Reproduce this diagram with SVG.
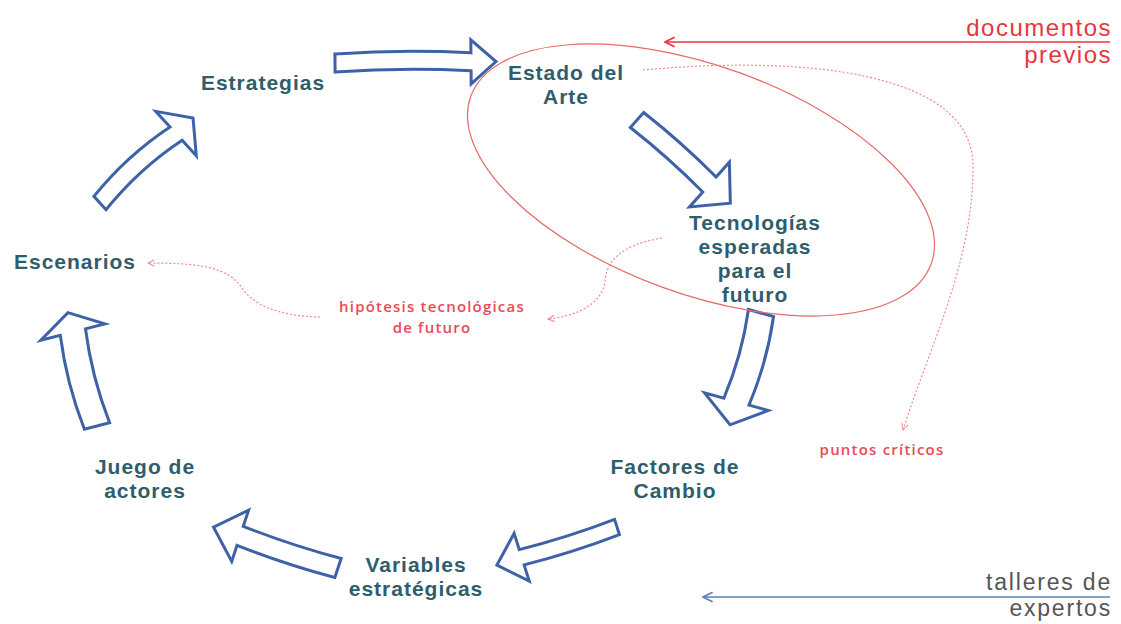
<svg xmlns="http://www.w3.org/2000/svg" width="1121" height="624" viewBox="0 0 1121 624">
<style>
.node{font-family:"Liberation Sans",Arial,sans-serif;font-weight:700;font-size:21px;fill:#2f5d6c;text-anchor:middle;letter-spacing:1px}
.blk{fill:#fff;stroke:#3d62a6;stroke-width:3;stroke-linejoin:miter}
.redt{fill:#e8353f}
.small{font-family:"Open Sans","Liberation Sans",sans-serif;font-size:15px;font-weight:600;text-anchor:middle;fill:#ea4a55;letter-spacing:1.2px}
.big{font-family:"Liberation Sans",Arial,sans-serif;font-size:24px;text-anchor:end;letter-spacing:1.5px}
.gray{font-family:"Liberation Sans",Arial,sans-serif;font-size:23px;fill:#555;text-anchor:end;letter-spacing:1.8px}
.dot{fill:none;stroke:#f08a8a;stroke-width:1.2;stroke-dasharray:2 2}
</style>
<defs>
<marker id="rh" viewBox="0 0 10 10" refX="9" refY="5" markerWidth="8" markerHeight="8" orient="auto" markerUnits="userSpaceOnUse">
<path d="M1,1 L9,5 L1,9" fill="none" stroke="#f08a8a" stroke-width="1.3"/>
</marker>
<marker id="rs" viewBox="0 0 10 10" refX="9" refY="5" markerWidth="12" markerHeight="12" orient="auto" markerUnits="userSpaceOnUse">
<path d="M1,1 L9,5 L1,9" fill="none" stroke="#e8353f" stroke-width="1.4"/>
</marker>
<marker id="bs" viewBox="0 0 10 10" refX="9" refY="5" markerWidth="12" markerHeight="12" orient="auto" markerUnits="userSpaceOnUse">
<path d="M1,1 L9,5 L1,9" fill="none" stroke="#5b7fb8" stroke-width="1.4"/>
</marker>
</defs>
<rect width="1121" height="624" fill="#fff"/>

<g id="connectors">
<path class="blk" transform="translate(335,63) rotate(-0.5)" d="M0,-9 Q68,-13 136,-9 L136,-22 L161,0 L136,22 L136,9 Q68,5 0,9 Z"/>
<path class="blk" transform="translate(637,120) rotate(41.7)" d="M0,-10 Q48.5,-13 97,-10 L97,-30 L125,0 L97,30 L97,10 Q48.5,7 0,10 Z"/>
<path class="blk" transform="translate(761,313) rotate(105.5)" d="M0,-13 Q46,-19 92,-13 L92,-33 L116,0 L92,33 L92,13 Q46,7 0,13 Z"/>
<path class="blk" transform="translate(617,527) rotate(162.4)" d="M0,-8 Q50,-11 100,-8 L100,-25 L126,0 L100,25 L100,8 Q50,5 0,8 Z"/>
<path class="blk" transform="translate(338,568) rotate(198.2)" d="M0,-10 Q51.5,-13 103,-10 L103,-27 L131,0 L103,27 L103,10 Q51.5,7 0,10 Z"/>
<path class="blk" transform="translate(97,426) rotate(255.6)" d="M0,-13 Q48.5,-19 97,-13 L97,-33 L117,0 L97,33 L97,13 Q48.5,7 0,13 Z"/>
<path class="blk" transform="translate(100,203) rotate(-42.4)" d="M0,-9 Q51.5,-17 103,-9 L103,-30 L126,0 L103,30 L103,9 Q51.5,1 0,9 Z"/>

<ellipse cx="701" cy="180" rx="245" ry="114" transform="rotate(20 701 180)" fill="none" stroke="#e86a6a" stroke-width="1.2"/>
<line x1="1110" y1="42" x2="665" y2="42" stroke="#e8353f" stroke-width="1.5" marker-end="url(#rs)"/>
<line x1="1110" y1="597" x2="703" y2="597" stroke="#5b7fb8" stroke-width="1.5" marker-end="url(#bs)"/>
<path class="dot" d="M643,70 C805,55 972,72 973,165 C974,262 928,350 903,430" marker-end="url(#rh)"/>
<path class="dot" d="M662,238 C620,245 606,262 605,282 C602,302 580,316 548,319" marker-end="url(#rh)"/>
<path class="dot" d="M320,317 C275,316 252,303 242,288 C228,266 195,263 148,263" marker-end="url(#rh)"/>
</g>

<g id="n-estrategias"><text class="node" x="263" y="90">Estrategias</text></g>
<g id="n-estado"><text class="node" x="566" y="80">Estado del</text><text class="node" x="566" y="104">Arte</text></g>
<g id="n-tecnologias"><text class="node" x="755" y="230">Tecnologías</text><text class="node" x="755" y="254">esperadas</text><text class="node" x="755" y="278">para el</text><text class="node" x="755" y="302">futuro</text></g>
<g id="n-escenarios"><text class="node" x="75" y="269">Escenarios</text></g>
<g id="n-juego"><text class="node" x="145" y="474">Juego de</text><text class="node" x="145" y="498">actores</text></g>
<g id="n-factores"><text class="node" x="675" y="474">Factores de</text><text class="node" x="675" y="498">Cambio</text></g>
<g id="n-variables"><text class="node" x="416" y="572">Variables</text><text class="node" x="416" y="596">estratégicas</text></g>

<g id="n-documentos"><text class="redt big" x="1112" y="36">documentos</text><text class="redt big" x="1112" y="63">previos</text></g>
<g id="n-talleres"><text class="gray" x="1112" y="590">talleres de</text><text class="gray" x="1112" y="616">expertos</text></g>
<g id="n-hipotesis"><text class="small" x="432" y="312">hipótesis tecnológicas</text><text class="small" x="432" y="333">de futuro</text></g>
<g id="n-puntos"><text class="small" x="882" y="455">puntos críticos</text></g>
</svg>
